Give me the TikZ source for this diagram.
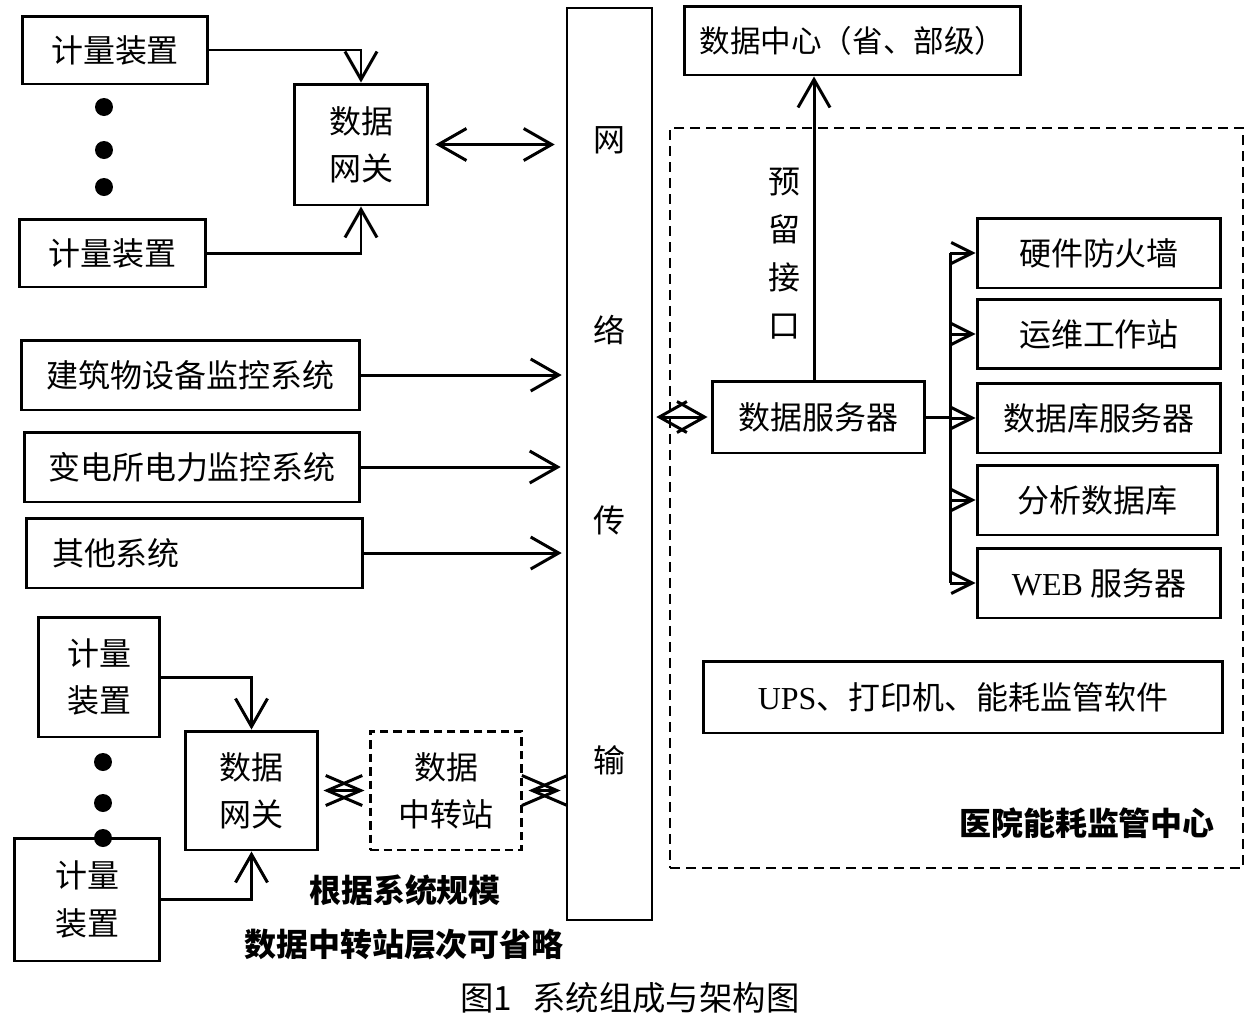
\documentclass[tikz,border=0pt]{standalone}
\usepackage{fontspec}
\setmainfont{Liberation Serif}
\newfontfamily\cjk{Noto Sans CJK SC}
\usetikzlibrary{arrows.meta,calc}
\begin{document}
\begin{tikzpicture}[x=0.02cm,y=-0.02cm,
  every node/.style={font=\cjk\fontsize{18.2}{26.8}\selectfont, inner sep=0pt},
  sbox/.style={draw, line width=1.7pt, align=center},
  ln/.style={line width=1.7pt},
  arrL/.style={line width=1.7pt, -{Straight Barb[length=0.56cm,width=0.64cm]}},
  dblL/.style={line width=1.7pt, {Straight Barb[length=0.56cm,width=0.64cm]}-{Straight Barb[length=0.56cm,width=0.64cm]}},
  dblX/.style={line width=1.7pt, {Straight Barb[length=0.7cm,width=0.6cm]}-{Straight Barb[length=0.7cm,width=0.6cm]}},
  diam/.style={line width=1.7pt, {Straight Barb[length=0.55cm,width=0.62cm]}-{Straight Barb[length=0.55cm,width=0.62cm]}},
  arrS/.style={line width=1.7pt, -{Straight Barb[length=0.42cm,width=0.42cm]}},
  boldtxt/.style={font=\cjk\bfseries\fontsize{18.2}{20}\selectfont}
]
\useasboundingbox (0,0) rectangle (1248,1015);

% hospital centre dashed region
\node[draw, line width=1.2pt, dash pattern=on 0.2cm off 0.12cm, minimum width=11.46cm, minimum height=14.8cm] (hosp) at (956.5,498) {};

% top-left group
\node[sbox, minimum width=3.72cm, minimum height=1.36cm] (m1) at (115,50) {计量装置};
\node[sbox, minimum width=3.74cm, minimum height=1.36cm] (m2) at (112.5,253) {计量装置};
\fill (104,107) circle [radius=0.18cm];
\fill (104,150) circle [radius=0.18cm];
\fill (104,187) circle [radius=0.18cm];
\node[sbox, minimum width=2.68cm, minimum height=2.42cm] (gw1) at (361,144.5) {数据\\网关};

% network bar
\node[draw, line width=1.5pt, minimum width=1.7cm, minimum height=18.24cm] (bar) at (609.5,464) {};
\node (n1) at (609,140) {网};
\node (n2) at (609,330) {络};
\node (n3) at (609,520) {传};
\node (n4) at (609,760) {输};

% systems
\node[sbox, minimum width=6.78cm, minimum height=1.4cm] (s1) at (190.5,375) {建筑物设备监控系统};
\node[sbox, minimum width=6.72cm, minimum height=1.4cm] (s2) at (192,467) {变电所电力监控系统};
\node[sbox, minimum width=6.74cm, minimum height=1.4cm, text width=5.7cm, align=left] (s3) at (194.5,553) {其他系统};

% bottom-left group
\node[sbox, minimum width=2.44cm, minimum height=2.4cm] (m3) at (99,677) {计量\\装置};
\node[sbox, minimum width=2.92cm, minimum height=2.46cm] (m4) at (87,899.5) {计量\\装置};
\fill (103,762) circle [radius=0.18cm];
\fill (103,803) circle [radius=0.18cm];
\fill (103,838) circle [radius=0.18cm];
\node[sbox, minimum width=2.66cm, minimum height=2.38cm] (gw2) at (251.5,790.5) {数据\\网关};
\node[sbox, dash pattern=on 0.17cm off 0.1cm, minimum width=3.04cm, minimum height=2.38cm] (st) at (446,790.5) {数据\\中转站};

% right side
\node[sbox, minimum width=6.74cm, minimum height=1.38cm, font=\cjk\fontsize{17.4}{20}\selectfont] (dc) at (852.5,40.5) {数据中心（省、部级）};
\node[sbox, minimum width=4.26cm, minimum height=1.44cm] (srv) at (818.5,417) {数据服务器};
\node[align=center, font=\cjk\fontsize{18.2}{27.2}\selectfont] (lab) at (784,253.5) {预\\留\\接\\口};
\node[sbox, minimum width=4.88cm, minimum height=1.4cm] (r1) at (1099,253) {硬件防火墙};
\node[sbox, minimum width=4.88cm, minimum height=1.38cm] (r2) at (1099,334) {运维工作站};
\node[sbox, minimum width=4.88cm, minimum height=1.4cm] (r3) at (1099,418) {数据库服务器};
\node[sbox, minimum width=4.82cm, minimum height=1.4cm] (r4) at (1097.5,500) {分析数据库};
\node[sbox, minimum width=4.88cm, minimum height=1.4cm] (r5) at (1099,583) {{\rmfamily WEB} 服务器};
\node[sbox, minimum width=10.4cm, minimum height=1.44cm] (ups) at (963,697) {{\rmfamily UPS}、打印机、能耗监管软件};

% texts
\node[boldtxt] (t1) at (1087,823) {医院能耗监管中心};
\node[boldtxt] (t2) at (405,890) {根据系统规模};
\node[boldtxt] (t3) at (404,945) {数据中转站层次可省略};
\node[font=\cjk\fontsize{19}{22}\selectfont] (cap) at (630,998) {图1\hspace{0.6em}系统组成与架构图};

% connectors
\draw[arrL] (m1.east) -| (gw1.north);
\draw[arrL] (m2.east) -| (gw1.south);
\draw[dblL, shorten <=0.12cm, shorten >=0.22cm] (gw1.east) -- (gw1.east -| bar.west);
\draw[arrL, shorten >=0.08cm] (s1.east) -- (s1.east -| bar.west);
\draw[arrL, shorten >=0.1cm] (s2.east) -- (s2.east -| bar.west);
\draw[arrL, shorten >=0.08cm] (s3.east) -- (s3.east -| bar.west);
\draw[arrL] (m3.east) -| (gw2.north);
\draw[arrL] (m4.east) -| (gw2.south);
\draw[dblX, shorten <=0.08cm, shorten >=0.08cm] (gw2.east) -- (st.west);
\draw[dblX, shorten <=0.1cm, shorten >=0.1cm] (st.east) -- (st.east -| bar.west);
\draw[diam, shorten <=0.06cm, shorten >=0.06cm] (srv.west -| bar.east) -- (srv.west);
\coordinate (ux) at (814,0);
\draw[arrL] (srv.north -| ux) -- (dc.south -| ux);
\coordinate (bj) at (950,417);
\draw[ln] (srv.east) -- (bj);
\draw[ln] (bj |- r1.west) -- (bj |- r5.west);
\foreach \r in {r1,r2,r3,r4,r5}{
  \draw[arrS] (bj |- \r.west) -- (\r.west);
}
\end{tikzpicture}
\end{document}
